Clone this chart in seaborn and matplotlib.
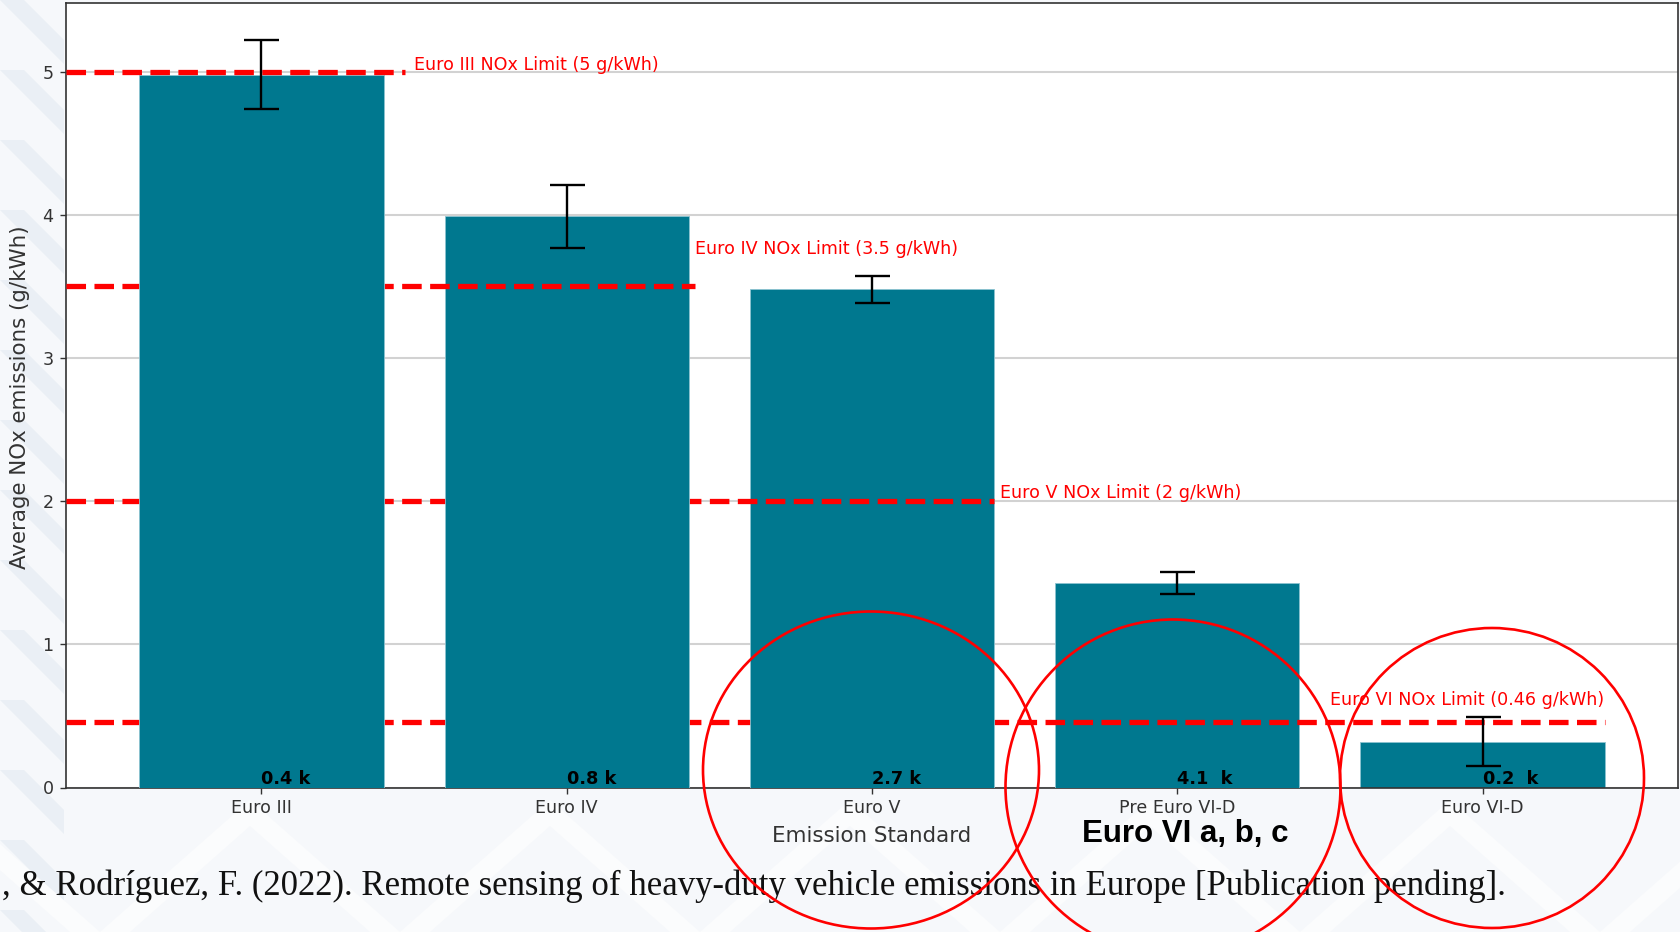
import matplotlib
matplotlib.use("Agg")
import matplotlib.pyplot as plt
from matplotlib.patches import Ellipse, Polygon
import pandas as pd
import seaborn as sns

# ---- data ----
standards = ["Euro III", "Euro IV", "Euro V", "Pre Euro VI-D", "Euro VI-D"]
mean_nox = [4.98, 3.99, 3.48, 1.43, 0.32]
err_nox = [0.24, 0.22, 0.096, 0.078, 0.17]
count_labels = ["0.4 k", "0.8 k", "2.7 k", "4.1  k", "0.2  k"]

limit_values = [5, 3.5, 2, 0.46]
limit_labels = [
    "Euro III NOx Limit (5 g/kWh)",
    "Euro IV NOx Limit (3.5 g/kWh)",
    "Euro V NOx Limit (2 g/kWh)",
    "Euro VI NOx Limit (0.46 g/kWh)",
]
y_ticks = [0, 1, 2, 3, 4, 5]

citation = (", & Rodríguez, F. (2022). Remote sensing of heavy-duty vehicle "
            "emissions in Europe [Publication pending].")
callout = "Euro VI a, b, c"

# ---- layout ----
W, H = 1680, 932
TEAL = "#00788f"
LIMIT_RED = "#ff0000"
limit_line_end = [0.47, 1.42, 2.40, 4.40]
limit_text_xy = [(0.50, 5.05), (1.42, 3.76), (2.42, 2.06), (3.50, 0.61)]
ellipses_px = [(871, 770, 336, 317), (1173, 787, 335, 335), (1492, 778, 304, 300)]

sns.set_style("white")
plt.rcParams["font.family"] = ["DejaVu Sans"]

fig = plt.figure(figsize=(W / 100, H / 100), dpi=100, facecolor="#f6f8fb")


def fig_xy(px, py):
    return px / W, 1 - py / H


# faint diagonal stripes of the slide background (left margin)
for k in range(-2, 16):
    y0 = k * 70
    pts = [(0, y0), (24, y0), (64, y0 + 40), (64, y0 + 64)]
    fig.add_artist(Polygon([fig_xy(x, y) for x, y in pts], closed=True,
                           transform=fig.transFigure, facecolor="#eaeff5",
                           edgecolor="none", zorder=-2))
# very faint chevrons below the plot
for cx in range(-200, 1900, 300):
    pts = [(cx, 932), (cx + 150, 800), (cx + 300, 932), (cx + 270, 932),
           (cx + 150, 826), (cx + 30, 932)]
    fig.add_artist(Polygon([fig_xy(x, y) for x, y in pts], closed=True,
                           transform=fig.transFigure, facecolor="#fbfcfd",
                           edgecolor="none", zorder=-2))

ax = fig.add_axes([66 / W, 1 - 787.5 / H, 1612 / W, 784.5 / H])
ax.set_facecolor("white")

df = pd.DataFrame({"standard": standards, "nox": mean_nox})
sns.barplot(data=df, x="standard", y="nox", color=TEAL, saturation=1,
            width=0.8, errorbar=None, ax=ax)
for i, bar in enumerate(ax.patches):
    bar.set_zorder(10 - 2 * i)
    bar.set_edgecolor("#8cc3d0")
    bar.set_linewidth(0.6)

# regulatory limit lines, each passing over its own bar
for i, (val, end, lbl, (tx, ty)) in enumerate(
        zip(limit_values, limit_line_end, limit_labels, limit_text_xy)):
    ax.plot([-0.64, end], [val, val], linestyle="--", color=LIMIT_RED,
            linewidth=3.8, zorder=11 - 2 * i, dash_capstyle="butt")
    ax.text(tx, ty, lbl, color=LIMIT_RED, fontsize=12.6, ha="left",
            va="center", zorder=14)

ax.errorbar(range(len(standards)), mean_nox, yerr=err_nox, fmt="none",
            ecolor="black", elinewidth=1.7, capsize=12.6, capthick=1.7,
            zorder=12)

for i, lbl in enumerate(count_labels):
    ax.text(i, 0, lbl, ha="left", va="bottom", fontsize=12.8,
            fontweight="bold", color="black", zorder=13)

ax.set_xlim(-0.64, 4.64)
ax.set_ylim(0, 5.48)
ax.set_yticks(y_ticks)
ax.yaxis.grid(True, color="#d2d2d2", linewidth=1.5)
ax.xaxis.grid(False)
ax.set_axisbelow(True)

ax.tick_params(axis="both", labelsize=12.6, colors="#333333", length=4,
               width=1, left=True, bottom=True)
ax.tick_params(axis="y", pad=5)
ax.tick_params(axis="x", pad=4.5)
for s in ax.spines.values():
    s.set_visible(True)
    s.set_color("#333333")
    s.set_linewidth(1.2)

ax.set_xlabel("Emission Standard", fontsize=15.4, color="#333333")
ax.set_ylabel("Average NOx emissions (g/kWh)", fontsize=15.4, color="#333333")
ax.xaxis.set_label_coords(0.5, (787.5 - 836) / 784.5)
ax.xaxis.label.set_va("center")
ax.yaxis.set_label_coords((20 - 66) / 1612, (787.5 - 397) / 784.5)
ax.yaxis.label.set_va("center")

# slide annotations
fig.text(0.001, 1 - 895 / H, citation, family="Liberation Serif",
         fontsize=25, ha="left", va="baseline", color="#111111")
fig.text(1185 / W, 1 - 834 / H, callout, family="Liberation Sans",
         fontweight="bold", fontsize=22.5, ha="center", va="center",
         color="black")
for cx, cy, w, h in ellipses_px:
    fig.add_artist(Ellipse(fig_xy(cx, cy), w / W, h / H,
                           transform=fig.transFigure, fill=False,
                           edgecolor="red", linewidth=1.9, zorder=20))

fig.savefig("out.png", dpi=100, facecolor=fig.get_facecolor())
